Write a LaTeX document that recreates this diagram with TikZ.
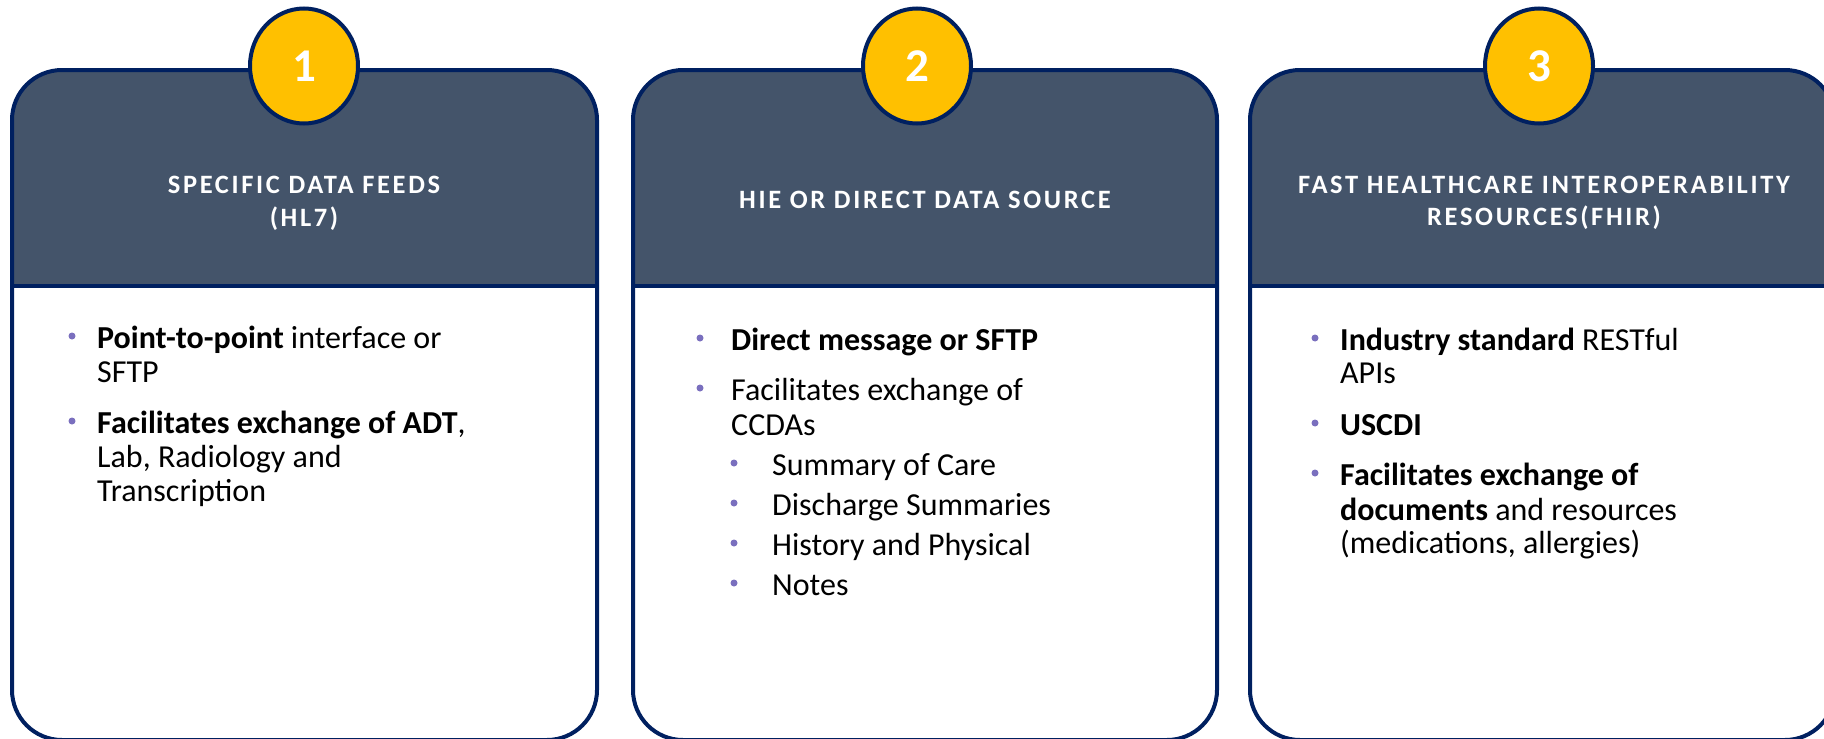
\documentclass[tikz,border=0pt]{standalone}
\usepackage{fontspec}
\setmainfont{Carlito}
\newfontfamily\headfont{Carlito}[LetterSpace=10]
\usetikzlibrary{shapes.geometric}
\definecolor{navy}{HTML}{002060}
\definecolor{slate}{HTML}{44546A}
\definecolor{gold}{HTML}{FFC000}
\definecolor{bul}{HTML}{7A6FBE}
\tikzset{
  cardline/.style={draw=navy, line width=4pt, rounded corners=50pt},
  divline/.style={draw=navy, line width=4pt},
  numcirc/.style={ellipse, draw=navy, line width=4pt, fill=gold, minimum width=108pt, minimum height=115pt, inner sep=0pt, text=white, font=\fontsize{47}{50}\selectfont\bfseries},
  headtxt/.style={anchor=base, inner sep=0pt, text=white, font=\headfont\fontsize{26.5}{33}\selectfont\bfseries},
  bodytxt/.style={anchor=base west, inner sep=0pt, text=black, font=\fontsize{32}{34}\selectfont},
  bulletdot/.style={circle, fill=bul, inner sep=0pt, minimum size=7pt},
}
\newcommand{\drawcard}[2]{%
  \begin{scope}
    \clip[rounded corners=50pt] (#1,70) rectangle (#2,740);
    \fill[slate] (#1,70) rectangle (#2,286);
  \end{scope}
  \draw[cardline] (#1,70) rectangle (#2,740);
  \draw[divline] (#1,286) -- (#2,286);
}
\begin{document}
\begin{tikzpicture}[x=1pt, y=-1pt]
\clip (0,0) rectangle (1824,739);
\useasboundingbox (0,0) rectangle (1824,739);
\fill[white] (0,0) rectangle (1824,739);
% cards
\drawcard{12}{597}
\drawcard{633}{1217}
\drawcard{1250}{1835}
% number badges
\node[numcirc] (n1) at (304,66) {1};
\node[numcirc] (n2) at (917,66) {2};
\node[numcirc] (n3) at (1539,66) {3};
% headers
\node[headtxt] (h1a) at (304,193) {SPECIFIC DATA FEEDS};
\node[headtxt] (h1b) at (304,226) {(HL7)};
\node[headtxt] (h2a) at (925,208) {HIE OR DIRECT DATA SOURCE};
\node[headtxt] (h3a) at (1544,193) {FAST HEALTHCARE INTEROPERABILITY};
\node[headtxt] (h3b) at (1544,225) {RESOURCES(FHIR)};
% card 1 body
\node[bulletdot] (b11) at (72,336) {};
\node[bodytxt] (t11a) at (97,348) {\bfseries Point-to-point\mdseries{} interface or};
\node[bodytxt] (t11b) at (97,382) {SFTP};
\node[bulletdot] (b12) at (72,421) {};
\node[bodytxt] (t12a) at (97,433) {\textbf{Facilitates exchange of ADT},};
\node[bodytxt] (t12b) at (97,467) {Lab, Radiology and};
\node[bodytxt] (t12c) at (97,501) {Transcription};
% card 2 body
\node[bulletdot] (b21) at (700,338) {};
\node[bodytxt] (t21a) at (731,350) {\textbf{Direct message or SFTP}};
\node[bulletdot] (b22) at (700,388) {};
\node[bodytxt] (t22a) at (731,400) {Facilitates exchange of};
\node[bodytxt] (t22b) at (731,435) {CCDAs};
\node[bulletdot] (b23) at (734,463) {};
\node[bodytxt] (t23) at (772,475) {Summary of Care};
\node[bulletdot] (b24) at (734,503) {};
\node[bodytxt] (t24) at (772,515) {Discharge Summaries};
\node[bulletdot] (b25) at (734,543) {};
\node[bodytxt] (t25) at (772,555) {History and Physical};
\node[bulletdot] (b26) at (734,583) {};
\node[bodytxt] (t26) at (772,595) {Notes};
% card 3 body
\node[bulletdot] (b31) at (1315,338) {};
\node[bodytxt] (t31a) at (1340,350) {\textbf{Industry standard} RESTful};
\node[bodytxt] (t31b) at (1340,383) {APIs};
\node[bulletdot] (b32) at (1315,423) {};
\node[bodytxt] (t32a) at (1340,435) {\textbf{USCDI}};
\node[bulletdot] (b33) at (1315,473) {};
\node[bodytxt] (t33a) at (1340,485) {\textbf{Facilitates exchange of}};
\node[bodytxt] (t33b) at (1340,520) {\textbf{documents} and resources};
\node[bodytxt] (t33c) at (1340,553) {(medications, allergies)};
\end{tikzpicture}
\end{document}
